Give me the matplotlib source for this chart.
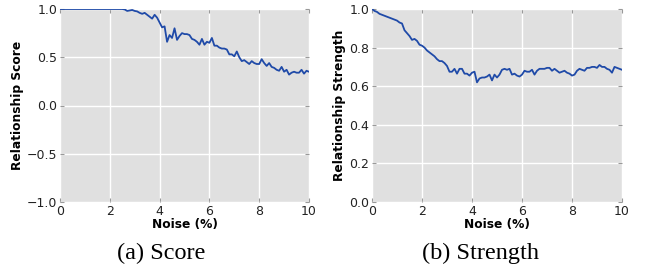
import numpy as np
import matplotlib
matplotlib.use("Agg")
import matplotlib.pyplot as plt

noise = np.arange(101) / 10.0

score = [1.0] * 26 + [
    0.995, 0.98, 0.985, 0.99, 0.98, 0.975, 0.96, 0.95, 0.96, 0.94,
    0.92, 0.90, 0.94, 0.91, 0.86, 0.81, 0.82, 0.66, 0.73, 0.70,
    0.80, 0.68, 0.72, 0.75, 0.74, 0.74, 0.73, 0.69, 0.68, 0.66,
    0.63, 0.69, 0.63, 0.66, 0.65, 0.70, 0.62, 0.62, 0.60, 0.59,
    0.59, 0.58, 0.53, 0.53, 0.51, 0.56, 0.50, 0.46, 0.47, 0.45,
    0.43, 0.46, 0.44, 0.43, 0.43, 0.48, 0.44, 0.41, 0.44, 0.40,
    0.39, 0.37, 0.36, 0.40, 0.35, 0.37, 0.32, 0.34, 0.35, 0.34,
    0.34, 0.37, 0.33, 0.36, 0.35]

strength = [
    1.0, 0.99, 0.985, 0.975, 0.97, 0.965, 0.96, 0.955, 0.95, 0.945,
    0.94, 0.93, 0.925, 0.89, 0.875, 0.86, 0.84, 0.845, 0.835, 0.815,
    0.81, 0.80, 0.785, 0.775, 0.765, 0.755, 0.74, 0.73, 0.73, 0.72,
    0.705, 0.675, 0.675, 0.69, 0.665, 0.69, 0.69, 0.665, 0.665, 0.655,
    0.67, 0.675, 0.62, 0.64, 0.645, 0.645, 0.65, 0.66, 0.63, 0.66,
    0.645, 0.66, 0.685, 0.69, 0.685, 0.69, 0.66, 0.665, 0.655, 0.65,
    0.66, 0.68, 0.675, 0.675, 0.685, 0.66, 0.68, 0.69, 0.69, 0.69,
    0.695, 0.695, 0.68, 0.69, 0.68, 0.67, 0.675, 0.68, 0.67, 0.665,
    0.655, 0.66, 0.68, 0.69, 0.685, 0.68, 0.695, 0.695, 0.70, 0.70,
    0.695, 0.71, 0.70, 0.70, 0.69, 0.685, 0.67, 0.70, 0.695, 0.69,
    0.685]

line_color = '#1f4aa8'
bg = '#e0e0e0'

fig = plt.figure(figsize=(6.49, 2.73), dpi=100)
ax1 = fig.add_axes([60/649, 1-202/273, 249/649, 193/273])
ax2 = fig.add_axes([372/649, 1-202/273, 250/649, 193/273])

def style(ax, ylabel, ylim, yticks):
    ax.set_facecolor(bg)
    for s in ax.spines.values():
        s.set_visible(False)
    ax.grid(True, color='white', linewidth=1.0)
    ax.set_axisbelow(True)
    ax.set_xlim(0, 10)
    ax.set_ylim(*ylim)
    ax.set_xticks([0, 2, 4, 6, 8, 10])
    ax.set_yticks(yticks)
    ax.tick_params(direction='in', length=3, color='#999999', labelsize=9,
                   labelcolor='#222222', top=True, right=True, pad=2)
    ax.set_xlabel('Noise (%)', fontsize=8.8, fontweight='bold', labelpad=0)
    ax.set_ylabel(ylabel, fontsize=8.8, fontweight='bold', labelpad=2)

ax1.plot(noise, score, color=line_color, linewidth=1.3)
style(ax1, 'Relationship Score', (-1.0, 1.0), [-1.0, -0.5, 0.0, 0.5, 1.0])

ax2.plot(noise, strength, color=line_color, linewidth=1.3)
style(ax2, 'Relationship Strength', (0.0, 1.0), [0.0, 0.2, 0.4, 0.6, 0.8, 1.0])

fig.text(161/649, 1-253/273, '(a) Score', family='Liberation Serif',
         fontsize=17.5, ha='center', va='center')
fig.text(480/649, 1-253/273, '(b) Strength', family='Liberation Serif',
         fontsize=17.5, ha='center', va='center')

fig.savefig('out.png', dpi=100)
